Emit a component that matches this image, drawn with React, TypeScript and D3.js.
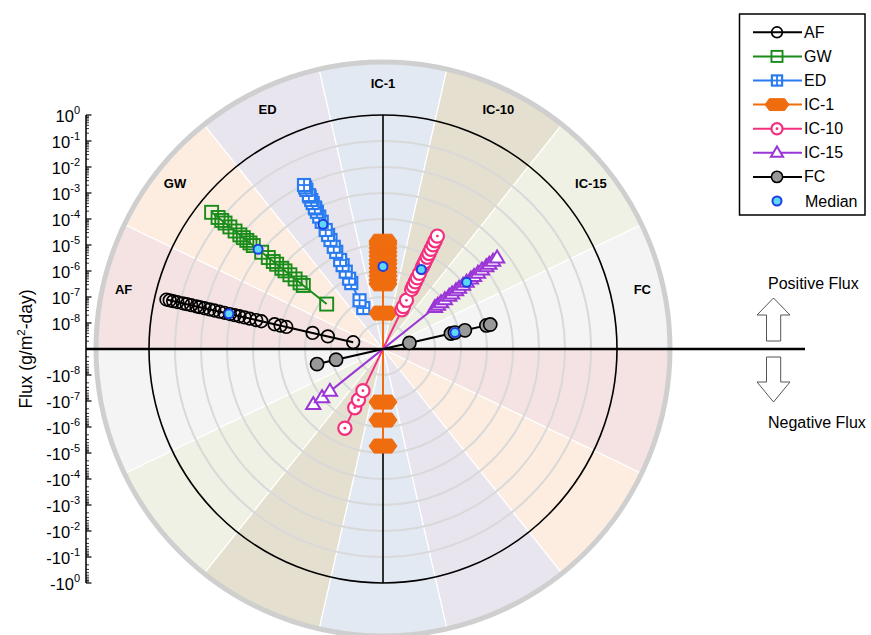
import React from "react";
import * as d3 from "d3";

// ---------- data (flux, g/m2-day; negative = negative flux) ----------
const categories = ["AF", "GW", "ED", "IC-1", "IC-10", "IC-15", "FC"];

const afFlux = [3.5e-1, 2.6e-1, 1.9e-1, 1.3e-1, 7.9e-2, 5.5e-2, 3.7e-2, 2.3e-2, 1.7e-2, 1.1e-2, 6.9e-3, 4.5e-3, 2.8e-3, 1.8e-3, 1.1e-3, 7.1e-4, 4.6e-4, 2.9e-4, 1.8e-4, 1.0e-4, 6.3e-5, 1.9e-5, 1.1e-5, 6.5e-6, 6.0e-7, 1.5e-7, 1.5e-8];
const gwFlux = [2.7e-1, 1.3e-1, 8.5e-2, 5.9e-2, 3.4e-2, 1.9e-2, 1.1e-2, 7.4e-3, 5.0e-3, 3.5e-3, 2.4e-3, 9.3e-4, 4.4e-4, 2.5e-4, 1.7e-4, 9.5e-5, 6.6e-5, 3.8e-5, 2.1e-5, 1.2e-5, 8.3e-6, 5.9e-7];
const edFlux = [1.0e-2, 7.9e-3, 6.2e-3, 3.7e-3, 3.2e-3, 2.3e-3, 1.7e-3, 1.1e-3, 1.0e-3, 7.2e-4, 4.5e-4, 2.7e-4, 1.2e-4, 7.4e-5, 4.5e-5, 2.3e-5, 1.4e-5, 6.3e-6, 3.8e-6, 2.0e-6, 1.0e-6, 6.5e-7, 1.2e-7, 5.6e-8];
const ic1Flux = [1.4e-5, 1.1e-5, 7.6e-6, 5.4e-6, 3.8e-6, 2.6e-6, 1.9e-6, 1.3e-6, 9.1e-7, 6.5e-7, 4.5e-7, 3.2e-7, 2.4e-8, -5.4e-6, -5.4e-7, -1.1e-7];
const ic10Flux = [6.6e-5, 4.2e-5, 2.8e-5, 1.8e-5, 1.2e-5, 8.3e-6, 5.4e-6, 4.2e-6, 3.0e-6, 1.7e-6, 1.1e-6, 7.4e-7, 4.9e-7, 3.5e-7, 1.2e-7, 6.5e-8, 4.7e-8, -2.4e-6, -3.2e-7, -1.5e-7, -6.0e-8];
const ic15Flux = [4.1e-4, 2.6e-4, 1.7e-4, 1.2e-4, 7.4e-5, 4.7e-5, 3.0e-5, 2.1e-5, 1.3e-5, 8.7e-6, 5.5e-6, 3.9e-6, 2.5e-6, 1.8e-6, 1.1e-6, 7.1e-7, 5.0e-7, 3.6e-7, -2.7e-6, -1.0e-6, -4.1e-7];
const fcFlux = [1.7e-5, 1.2e-5, 1.7e-6, 6.9e-7, 4.8e-7, 1.1e-8, -4.0e-7, -7.1e-8];

const medianFlux = [1.2e-3, 1.4e-3, 2.1e-4, 1.5e-6, 2.5e-6, 1.3e-5, 6.9e-7];

const tickExponents = [0, -1, -2, -3, -4, -5, -6, -7, -8];

// ---------- styles ----------
const seriesFlux = [afFlux, gwFlux, edFlux, ic1Flux, ic10Flux, ic15Flux, fcFlux];
const sectorColors = ["#f4e3e2", "#fcede0", "#e8e5ef", "#e2e9f2", "#e4dfce", "#eef1e4", "#f4f4f4"];
const seriesColors = ["#000000", "#1a8c1a", "#2b7bf0", "#ef6c0f", "#f2307e", "#9a35d6", "#000000"];
const markerTypes = ["circle", "square", "squareCross", "hexagon", "circleDot", "triangle", "filledCircle"];

const W = 871, H = 635;
const cx = 383, cy = 349;
const R = 234, outerR = 287;
const FONT = "'Liberation Sans', Arial, Helvetica, sans-serif";

const rScale = d3.scaleLog().domain([1e-9, 1]).range([0, R]);
const step = 180 / categories.length;
const centerDeg = (i: number) => (i + 0.5) * step;

function pos(i: number, v: number): [number, number] {
  const r = rScale(Math.abs(v));
  const a = (centerDeg(i) * Math.PI) / 180;
  const s = v < 0 ? -1 : 1;
  return [cx - s * r * Math.cos(a), cy - s * r * Math.sin(a)];
}

function Marker({ type, x, y, color, scale = 1 }: { type: string; x: number; y: number; color: string; scale?: number }) {
  const k = scale;
  switch (type) {
    case "circle":
      return <circle cx={x} cy={y} r={6.3 * k} fill="none" stroke={color} strokeWidth={1.7} />;
    case "square":
      return <rect x={x - 6.5 * k} y={y - 6.5 * k} width={13 * k} height={13 * k} fill="none" stroke={color} strokeWidth={1.9} />;
    case "squareCross": {
      const h = 6 * k;
      return (
        <g>
          <rect x={x - h} y={y - h} width={2 * h} height={2 * h} fill="#fff" stroke={color} strokeWidth={2.2} />
          <line x1={x} x2={x} y1={y - h} y2={y + h} stroke={color} strokeWidth={1.8} />
          <line x1={x - h} x2={x + h} y1={y} y2={y} stroke={color} strokeWidth={1.8} />
        </g>
      );
    }
    case "hexagon": {
      const pts: [number, number][] = [[-14, 0], [-9, -7], [9, -7], [14, 0], [9, 7], [-9, 7]];
      return <polygon points={pts.map((p) => `${x + p[0] * k},${y + p[1] * k}`).join(" ")} fill={color} stroke={color} strokeWidth={1} />;
    }
    case "circleDot":
      return (
        <g>
          <circle cx={x} cy={y} r={6.6 * k} fill="#fff" stroke={color} strokeWidth={2.2} />
          <circle cx={x} cy={y} r={1.4} fill={color} />
        </g>
      );
    case "triangle": {
      const s = 7.5 * k;
      return (
        <polygon
          points={`${x},${y - s} ${x + s * 0.95},${y + s * 0.6} ${x - s * 0.95},${y + s * 0.6}`}
          fill="#fff"
          stroke={color}
          strokeWidth={2}
          strokeLinejoin="miter"
        />
      );
    }
    case "filledCircle":
      return <circle cx={x} cy={y} r={6.6 * k} fill="#999999" stroke="#000" strokeWidth={1.6} />;
    case "median":
      return <circle cx={x} cy={y} r={4.5} fill="#5fd7f7" stroke="#1c3fe6" strokeWidth={2} />;
    default:
      return null;
  }
}

export default function App() {
  const arc = d3.arc<any>();
  const line = d3.line();

  const sectors: JSX.Element[] = [];
  categories.forEach((c, i) => {
    const a0 = ((i * step - 90) * Math.PI) / 180;
    const a1 = (((i + 1) * step - 90) * Math.PI) / 180;
    [0, Math.PI].forEach((off, k) => {
      sectors.push(
        <path
          key={`s${i}-${k}`}
          d={arc({ innerRadius: 0, outerRadius: outerR, startAngle: a0 + off, endAngle: a1 + off }) as string}
          transform={`translate(${cx},${cy})`}
          fill={sectorColors[i]}
          stroke="#ffffff"
          strokeWidth={1.2}
        />
      );
    });
  });

  const gridRadii = d3.range(-8, 0).map((e) => rScale(Math.pow(10, e)));

  const minorTicks: number[] = [];
  for (let d = -9; d < 0; d++) for (let k = 2; k <= 9; k++) minorTicks.push(k * Math.pow(10, d));

  const axisX = 86;
  const legendY0 = 32.3, legendDy = 24.1;

  return (
    <svg width={W} height={H} style={{ position: "absolute", left: 0, top: 0, background: "#fff" }} fontFamily={FONT}>
      {sectors}
      {gridRadii.map((r, k) => (
        <circle key={`g${k}`} cx={cx} cy={cy} r={r} fill="none" stroke="#d9d9d9" strokeWidth={2} />
      ))}
      <circle cx={cx} cy={cy} r={R} fill="none" stroke="#000" strokeWidth={1.6} />
      <circle cx={cx} cy={cy} r={outerR} fill="none" stroke="#cfcfcf" strokeWidth={5} />
      <line x1={cx} x2={cx} y1={cy - R} y2={cy + R} stroke="#000" strokeWidth={1.6} />
      <line x1={axisX} x2={805} y1={cy} y2={cy} stroke="#000" strokeWidth={2.6} />

      {categories.map((c, i) => {
        const a = (centerDeg(i) * Math.PI) / 180;
        const rl = 266;
        return (
          <text key={`l${c}`} x={cx - rl * Math.cos(a)} y={cy - rl * Math.sin(a) + 4.5} textAnchor="middle" fontSize={13} fontWeight="bold" fill="#000">
            {c}
          </text>
        );
      })}

      {/* y axis */}
      <line x1={axisX} x2={axisX} y1={cy - R} y2={cy + R} stroke="#000" strokeWidth={1.5} />
      {minorTicks.map((v, k) => (
        <g key={`mt${k}`}>
          <line x1={axisX} x2={axisX + 3} y1={cy - rScale(v)} y2={cy - rScale(v)} stroke="#000" strokeWidth={0.8} />
          <line x1={axisX} x2={axisX + 3} y1={cy + rScale(v)} y2={cy + rScale(v)} stroke="#000" strokeWidth={0.8} />
        </g>
      ))}
      {tickExponents.map((e) => {
        const r = rScale(Math.pow(10, e));
        return (
          <g key={`t${e}`}>
            <line x1={axisX} x2={axisX + 5.5} y1={cy - r} y2={cy - r} stroke="#000" strokeWidth={1.2} />
            <line x1={axisX} x2={axisX + 5.5} y1={cy + r} y2={cy + r} stroke="#000" strokeWidth={1.2} />
            <text x={80} y={cy - r + 6.5} textAnchor="end" fontSize={16.5} fill="#000">
              10<tspan dy={-7.5} fontSize={11}>{e}</tspan>
            </text>
            <text x={80} y={cy + r + 6.5} textAnchor="end" fontSize={16.5} fill="#000">
              -10<tspan dy={-7.5} fontSize={11}>{e}</tspan>
            </text>
          </g>
        );
      })}
      <text transform={`translate(32,${cy}) rotate(-90)`} textAnchor="middle" fontSize={17.5} fill="#000">
        Flux (g/m<tspan dy={-7} fontSize={11.5}>2</tspan>
        <tspan dy={7}>-day)</tspan>
      </text>

      {/* series */}
      {seriesFlux.map((vals, i) => {
        const sorted = [...vals].sort((a, b) => a - b);
        const pts = sorted.map((v) => pos(i, v));
        return (
          <g key={`ser${i}`}>
            <path d={line(pts) as string} fill="none" stroke={seriesColors[i]} strokeWidth={2} />
            {pts.map((p, k) => (
              <Marker key={k} type={markerTypes[i]} x={p[0]} y={p[1]} color={seriesColors[i]} />
            ))}
          </g>
        );
      })}
      {medianFlux.map((v, i) => {
        const p = pos(i, v);
        return <Marker key={`m${i}`} type="median" x={p[0]} y={p[1]} color="#1c3fe6" />;
      })}

      {/* legend */}
      <rect x={739.5} y={14} width={125.5} height={201} fill="#fff" stroke="#000" strokeWidth={1.5} />
      {categories.map((c, i) => {
        const y = legendY0 + i * legendDy;
        return (
          <g key={`lg${c}`}>
            <line x1={753} x2={802} y1={y} y2={y} stroke={seriesColors[i]} strokeWidth={2} />
            <Marker type={markerTypes[i]} x={777} y={y} color={seriesColors[i]} scale={0.85} />
            <text x={804} y={y + 5.5} fontSize={16} fill="#000">
              {c}
            </text>
          </g>
        );
      })}
      <Marker type="median" x={777} y={legendY0 + 7 * legendDy} color="#1c3fe6" />
      <text x={805} y={legendY0 + 7 * legendDy + 5.5} fontSize={16} fill="#000">
        Median
      </text>

      {/* flux direction arrows */}
      <polygon points="773.5,298 790,315 780.7,315 780.7,341 766.5,341 766.5,315 757,315" fill="#fff" stroke="#555" strokeWidth={1} />
      <polygon points="766.5,357 780.7,357 780.7,382 790,382 773.5,402 757,382 766.5,382" fill="#fff" stroke="#555" strokeWidth={1} />
      <text x={768} y={289} fontSize={16} fill="#000">
        Positive Flux
      </text>
      <text x={768} y={428} fontSize={16} fill="#000">
        Negative Flux
      </text>
    </svg>
  );
}
